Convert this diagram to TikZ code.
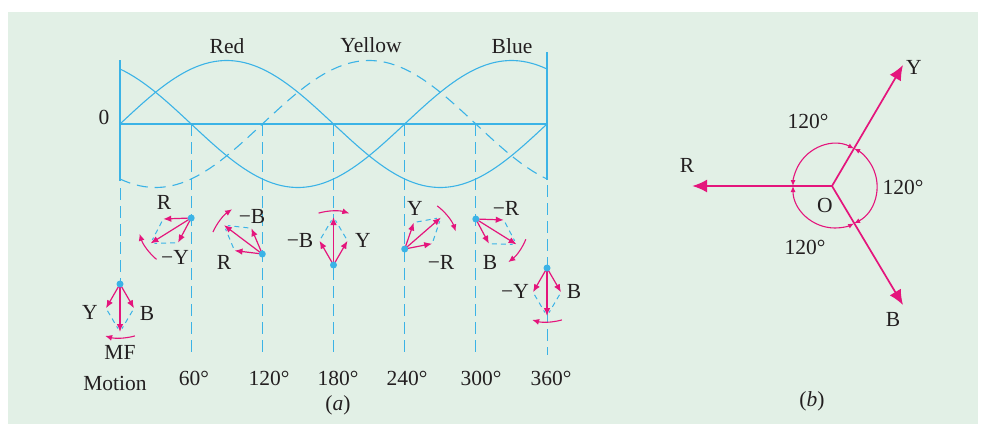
\documentclass[tikz,border=0pt]{standalone}
\usepackage{fontspec}
\setmainfont{Liberation Serif}
\usetikzlibrary{arrows.meta,positioning,calc}
\definecolor{panel}{HTML}{E2F0E6}
\definecolor{wave}{HTML}{3BB3E6}
\definecolor{fas}{HTML}{E4157C}
\definecolor{ink}{HTML}{231F20}
\tikzset{
  >={Latex[length=8pt,width=6.5pt]},
  % curves
  wv/.style={draw=wave,line width=1.1pt},
  wvd/.style={wv,dash pattern=on 11pt off 7pt},
  bound/.style={draw=wave,line width=1.8pt},
  axisline/.style={draw=wave,line width=2.2pt},
  proj/.style={draw=wave,line width=1pt,dash pattern=on 12pt off 6pt},
  lbl/.style={text=ink,font=\fontsize{21.5}{24}\selectfont,inner sep=0pt},
  % phasors
  ph/.style={->,draw=fas,line width=1.2pt},
  dotc/.style={circle,fill=wave,inner sep=0pt,minimum size=7pt},
  par/.style={draw=wave,line width=1pt,dash pattern=on 5pt off 4pt,
              shorten <=3pt,shorten >=4pt},
  rot/.style={-{Latex[length=7pt,width=6pt]},draw=fas,line width=1.1pt},
  bigph/.style={-{Latex[length=15pt,width=13pt]},draw=fas,line width=1.7pt},
  dimarc/.style={{Latex[length=6pt,width=5pt]}-{Latex[length=6pt,width=5pt]},
                 draw=fas,line width=1.1pt},
}
\begin{document}
\begin{tikzpicture}[x=1pt,y=-1pt]
\useasboundingbox (0,0) rectangle (985,431);
\fill[panel] (8,12) rectangle (978,424);
% (a) waves
\coordinate (o) at (120,124);
\coordinate (e) at (547,124);
\draw[proj] (120,188) -- (120,284);
\foreach \k in {1,...,5}{
  \coordinate (t\k) at ({120+\k*71.1667},124);
  \coordinate (b\k) at ({120+\k*71.1667},355);
  \draw[proj] (t\k) -- (b\k);
}
\draw[proj] (547,185) -- (547,355);
\draw[wv] plot[domain=0:360,samples=91] ({120+\x*1.186111},{124-63.5*sin(\x)});
\draw[wvd] plot[domain=0:360,samples=91] ({120+\x*1.186111},{124-63.5*sin(\x-120)});
\draw[wv] plot[domain=0:360,samples=91] ({120+\x*1.186111},{124-63.5*sin(\x-240)});
\draw[bound] (120,60) -- (120,181);
\draw[bound] (547,52) -- (547,180);
\draw[axisline] (o) -- (e);
\node[lbl] (red) at (227,46) {Red};
\node[lbl] (yel) at (371,45) {Yellow};
\node[lbl] (blu) at (512,46) {Blue};
\node[lbl] (zero) at (104,117) {0};
% (a) phasors
\foreach \i/\px/\py/\ang/\sa/\ea in {0/120/284/270/286/254, 1/191.2/218/212/230/197,
    2/262.3/254/143/156/124, 3/333.5/265/90/106/73, 4/404.7/249/41/53/19,
    5/475.8/219/-32/-22/-53, 6/547/268/-90/-74/-106}{
  \coordinate (o\i) at (\px,\py);
  \coordinate (r\i) at ($(o\i)+(\ang:48pt)$);
  \coordinate (u\i) at ($(o\i)+(\ang-30:28pt)$);
  \coordinate (v\i) at ($(o\i)+(\ang+30:28pt)$);
  \draw[par] (u\i) -- (r\i);
  \draw[par] (v\i) -- (r\i);
  \draw[ph] (o\i) -- (u\i);
  \draw[ph] (o\i) -- (v\i);
  \draw[ph] (o\i) -- (r\i);
  \draw[rot] ($(o\i)+(\sa:54pt)$) arc[start angle=\sa,end angle=\ea,radius=54pt];
  \node[dotc] (d\i) at (o\i) {};
}
\node[lbl] (y0) at (90,312) {Y};
\node[lbl] (b0) at (147,313) {B};
\node[lbl] (r1) at (164,202) {R};
\node[lbl] (y1) at (175,257) {−Y};
\node[lbl] (b2) at (252,216) {−B};
\node[lbl] (r2) at (224,262) {R};
\node[lbl] (b3) at (300,240) {−B};
\node[lbl] (y3) at (363,240) {Y};
\node[lbl] (y4) at (415,208) {Y};
\node[lbl] (r4) at (441,262) {−R};
\node[lbl] (r5) at (506,208) {−R};
\node[lbl] (b5) at (490,262) {B};
\node[lbl] (y6) at (515,291) {−Y};
\node[lbl] (b6) at (574,291) {B};
\node[lbl] (mf) at (120,352) {MF};
\node[lbl] (mot) at (115,383) {Motion};
\node[lbl] (g60) at (194,378) {60°};
\node[lbl] (g120) at (269,378) {120°};
\node[lbl] (g180) at (338,378) {180°};
\node[lbl] (g240) at (407,378) {240°};
\node[lbl] (g300) at (481,378) {300°};
\node[lbl] (g360) at (551,378) {360°};
\node[lbl] (capa) at (338,405) {(\textit{a})};
% (b)
\coordinate (ctr) at (832,186);
\coordinate (c) at (835,186);
\coordinate (tR) at (692,186);
\coordinate (tY) at (903,65);
\coordinate (tB) at (903,305);
\draw[bigph,line width=2.4pt] (ctr) -- (tR);
\draw[bigph] (ctr) -- (tY);
\draw[bigph] (ctr) -- (tB);
\draw[dimarc] ($(c)+(63:42pt)$) arc[start angle=63,end angle=180,radius=42pt];
\draw[dimarc] ($(c)+(180:42pt)$) arc[start angle=180,end angle=297,radius=42pt];
\draw[dimarc] ($(c)+(-63:42pt)$) arc[start angle=-63,end angle=63,radius=42pt];
\node[lbl] (lR) at (687,165) {R};
\node[lbl] (lY) at (914,67) {Y};
\node[lbl] (lB) at (893,319) {B};
\node[lbl] (lO) at (825,205) {O};
\node[lbl] (a1) at (808,121) {120°};
\node[lbl] (a2) at (903,187) {120°};
\node[lbl] (a3) at (805,247) {120°};
\node[lbl] (capb) at (812,401) {(\textit{b})};
\end{tikzpicture}
\end{document}
